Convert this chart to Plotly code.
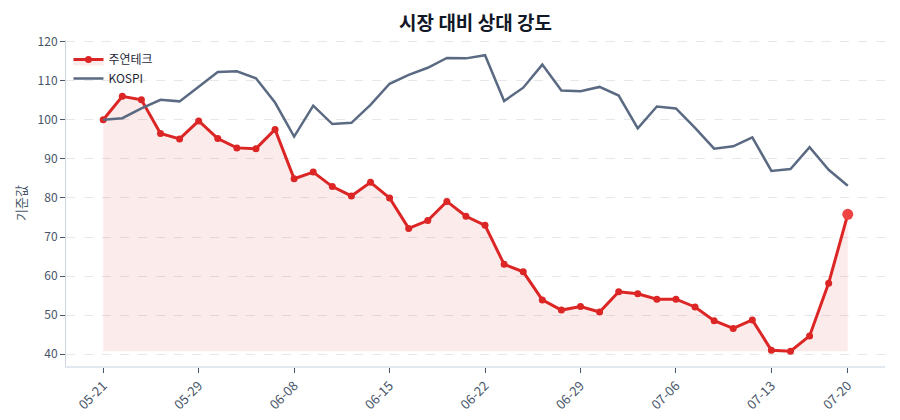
import plotly.graph_objects as go

# trading dates (MM-DD), rebased series: first day = 100
dates = ['05-21', '05-22', '05-23', '05-26', '05-27',
         '05-29', '05-30', '06-02', '06-04', '06-05',
         '06-08', '06-09', '06-10', '06-11', '06-12',
         '06-15', '06-16', '06-17', '06-18', '06-19',
         '06-22', '06-23', '06-24', '06-25', '06-26',
         '06-29', '06-30', '07-01', '07-02', '07-03',
         '07-06', '07-07', '07-08', '07-09', '07-10',
         '07-13', '07-14', '07-15', '07-17', '07-20']

stock = [100.0, 106.0, 105.1, 96.5, 95.1, 99.7, 95.2, 92.8, 92.6, 97.5,
         84.9, 86.6, 82.9, 80.5, 84.0, 80.0, 72.2, 74.2, 79.1, 75.3,
         73.0, 63.0, 61.1, 53.9, 51.3, 52.2, 50.8, 56.0, 55.5, 54.1,
         54.1, 52.1, 48.6, 46.6, 48.8, 41.0, 40.8, 44.7, 58.2, 75.8]

kospi = [100.0, 100.4, 102.9, 105.1, 104.7, 108.4, 112.2, 112.4, 110.6, 104.4,
         95.7, 103.6, 98.9, 99.2, 103.8, 109.2, 111.5, 113.3, 115.8, 115.7,
         116.5, 104.8, 108.2, 114.1, 107.5, 107.3, 108.4, 106.2, 97.8, 103.4,
         102.9, 97.9, 92.6, 93.2, 95.5, 86.9, 87.4, 93.0, 87.2, 83.1]

tick_labels = ['05-21', '05-29', '06-08', '06-15', '06-22', '06-29', '07-06', '07-13', '07-20']

stock_name = '주연테크'
index_name = 'KOSPI'

font_family = 'Noto Sans CJK KR'
red = '#dc2626'
slate = '#5a6a82'

fig = go.Figure()

# shaded area under the stock line, down to its lowest value
base = min(stock)
fig.add_trace(go.Scatter(x=dates, y=[base] * len(dates), mode='lines',
                         line=dict(width=0), showlegend=False, hoverinfo='skip'))
fig.add_trace(go.Scatter(x=dates, y=stock, name=stock_name, mode='lines+markers',
                         line=dict(color=red, width=3), marker=dict(color=red, size=7),
                         fill='tonexty', fillcolor='rgba(220,38,38,0.09)'))
fig.add_trace(go.Scatter(x=dates, y=kospi, name=index_name, mode='lines',
                         line=dict(color=slate, width=2.5)))
# highlight latest point
fig.add_trace(go.Scatter(x=dates[-1:], y=stock[-1:], mode='markers',
                         marker=dict(color='#ef4444', size=11), showlegend=False))

fig.update_layout(
    width=900, height=420,
    margin=dict(l=66, r=15, t=40, b=54),
    paper_bgcolor='white', plot_bgcolor='white',
    font=dict(family=font_family, size=12, color='#475569'),
    title=dict(text='<b>시장 대비 상대 강도</b>', x=0.5, xref='paper', xanchor='center',
               y=0.945, yanchor='middle',
               font=dict(family=font_family, size=19, color='#111827')),
    legend=dict(x=0.003, y=0.985, xanchor='left', yanchor='top', bgcolor='rgba(0,0,0,0)',
                traceorder='normal',
                font=dict(family=font_family, size=12, color='#1f2937'), tracegroupgap=0),
    showlegend=True,
)

fig.update_xaxes(
    type='category', range=[-1.95, len(dates) - 1 + 1.95], automargin=False,
    tickmode='array', tickvals=tick_labels, ticktext=tick_labels, tickangle=-45,
    ticks='outside', ticklen=5, tickcolor='#475569',
    showgrid=False, showline=True, linecolor='#e2e8f0', linewidth=2,
    tickfont=dict(size=13, color='#475569'), zeroline=False,
)
fig.update_yaxes(
    range=[37.0, 120.4], tickmode='linear', tick0=40, dtick=10, automargin=False,
    ticks='outside', ticklen=5, tickcolor='#475569',
    showgrid=True, gridcolor='#e5e7eb', griddash='dash', gridwidth=1,
    showline=True, linecolor='#cbd5e1', linewidth=1, zeroline=False,
    tickfont=dict(size=12, color='#475569'),
    title=dict(text='기준값', font=dict(size=13, color='#475569'), standoff=8),
)

# drop the default page margin so the 900x420 figure sits at the window corner
fig.write_html('out.html', config={'displayModeBar': False},
               post_script="document.body.style.margin='0';")
